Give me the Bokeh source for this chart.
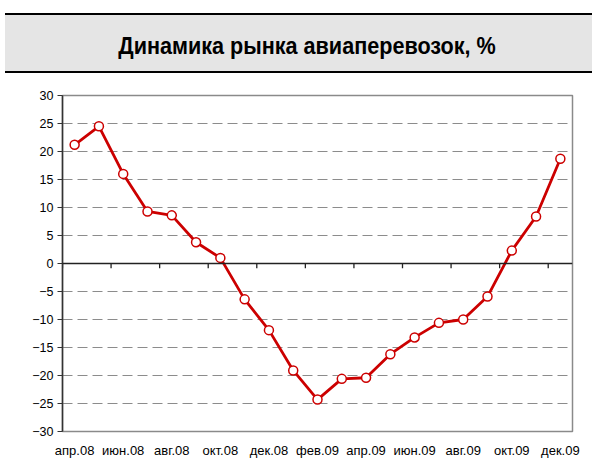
from bokeh.plotting import figure
from bokeh.models import Range1d, FixedTicker, Span, ColumnDataSource, Div
from bokeh.layouts import column
from bokeh.embed import file_html
from bokeh.resources import INLINE

title_text = "Динамика рынка авиаперевозок, %"
months = ["апр.08", "май.08", "июн.08", "июл.08", "авг.08", "сен.08", "окт.08",
          "ноя.08", "дек.08", "янв.09", "фев.09", "мар.09", "апр.09", "май.09",
          "июн.09", "июл.09", "авг.09", "сен.09", "окт.09", "ноя.09", "дек.09"]
growth = [21.2, 24.5, 16.0, 9.3, 8.6, 3.8, 1.0, -6.4, -11.9, -19.1, -24.3,
          -20.6, -20.4, -16.2, -13.2, -10.6, -10.0, -5.9, 2.3, 8.4, 18.7]
y_ticks = [-30, -25, -20, -15, -10, -5, 0, 5, 10, 15, 20, 25, 30]

W = 592
HEAD_H = 78

# ---------- header (gray band with black rules, condensed bold title) ----------
header_html = (
    '<div style="position:relative; width:%dpx; height:%dpx; margin:0; padding:0;">'
    '<div style="position:absolute; left:5px; top:13px; width:587px; height:60px;'
    ' background:#e5e5e5; border-top:2.5px solid #000; border-bottom:2.5px solid #000;"></div>'
    '<span style="position:absolute; left:307px; top:34px; white-space:nowrap;'
    ' font-family:\'Liberation Sans\', Arial, sans-serif; font-weight:bold; font-size:24px;'
    ' line-height:24px; color:#000; transform-origin:0 0; transform:scaleX(0.9) translateX(-50%%);">'
    '%s</span></div>' % (W, HEAD_H, title_text)
)
head = Div(text=header_html, width=W, height=HEAD_H, margin=(0, 0, 0, 0))

# ---------- chart ----------
n = len(months)
xs = [i + 0.5 for i in range(n)]
src = ColumnDataSource(dict(x=xs, y=growth))

p = figure(width=W, height=382, output_backend="svg", toolbar_location=None,
           x_range=Range1d(0, n), y_range=Range1d(min(y_ticks), max(y_ticks)),
           min_border_left=62, min_border_right=20, min_border_top=17, min_border_bottom=26)
p.background_fill_color = "white"
p.border_fill_color = "white"
p.outline_line_color = "#8a8a8a"
p.outline_line_width = 1.5

p.xgrid.visible = False
p.ygrid.ticker = FixedTicker(ticks=[t for t in y_ticks if t not in (0, min(y_ticks), max(y_ticks))])
p.ygrid.grid_line_color = "#8c8c8c"
p.ygrid.grid_line_dash = "10 5"
p.ygrid.grid_line_width = 1

p.yaxis.ticker = FixedTicker(ticks=y_ticks)
p.yaxis.axis_line_color = "#333333"
p.yaxis.axis_line_width = 1.5
p.yaxis.major_tick_line_color = "#333333"
p.yaxis.major_tick_out = 5
p.yaxis.major_tick_in = 0
p.yaxis.minor_tick_line_color = None
p.yaxis.major_label_standoff = 4
p.yaxis.major_label_text_font = "Liberation Sans"
p.yaxis.major_label_text_font_size = "12.5px"
p.yaxis.major_label_text_color = "black"

label_pos = [i + 0.5 for i in range(0, n, 2)]
p.xaxis.ticker = FixedTicker(ticks=label_pos)
p.xaxis.major_label_overrides = {i + 0.5: months[i] for i in range(0, n, 2)}
p.xaxis.axis_line_color = None
p.xaxis.major_tick_line_color = None
p.xaxis.major_tick_out = 0
p.xaxis.major_tick_in = 0
p.xaxis.minor_tick_line_color = None
p.xaxis.major_label_standoff = 11
p.xaxis.major_label_text_font = "Liberation Sans"
p.xaxis.major_label_text_font_size = "13px"
p.xaxis.major_label_text_color = "black"

# zero axis line with tick marks at every second category boundary
p.add_layout(Span(location=0, dimension="width", line_color="#222222", line_width=1.5))
bounds = list(range(0, n + 1, 2))
p.segment(x0=bounds, x1=bounds, y0=[0] * len(bounds), y1=[-0.85] * len(bounds),
          line_color="#222222", line_width=1.3)

p.line("x", "y", source=src, line_color="#cc0000", line_width=2.8, line_join="round")
p.scatter("x", "y", source=src, marker="circle", size=9, fill_color="white",
          line_color="#cc0000", line_width=1.5)

layout = column(head, p, spacing=0)
open("out.html", "w").write(file_html(layout, INLINE))
